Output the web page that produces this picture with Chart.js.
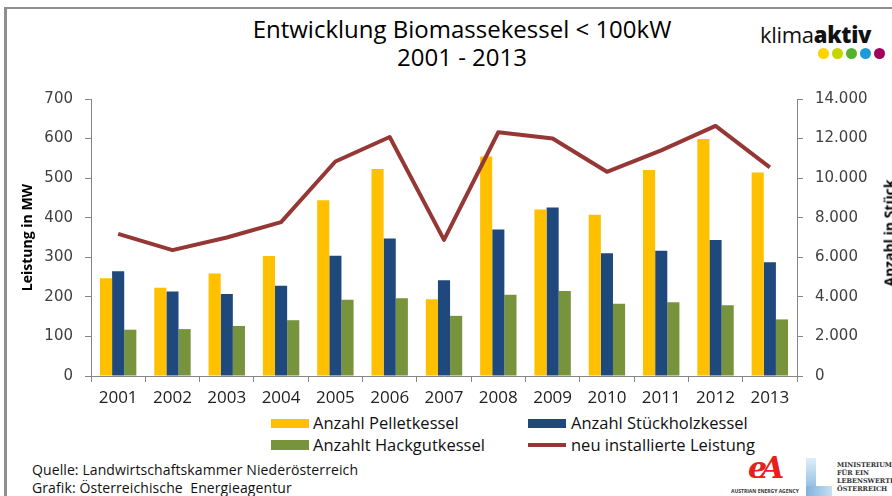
<!DOCTYPE html>
<html lang="de">
<head>
<meta charset="UTF-8">
<title>Entwicklung Biomassekessel &lt; 100kW</title>
<script src="https://cdn.jsdelivr.net/npm/chart.js"></script>
<style>
    body {
        margin: 0;
        width: 892px;
        height: 496px;
        overflow: hidden;
        background: #fff;
        font-family: 'Open Sans', sans-serif;
        position: relative;
    }
    .frame {
        position: absolute;
        left: 4px;
        top: 7px;
        width: 1000px;
        height: 600px;
        border-left: 3px solid #8f8f8f;
        border-top: 2px solid #8f8f8f;
    }
    .title {
        position: absolute;
        left: 212px;
        width: 500px;
        text-align: center;
        font-size: 24px;
        line-height: 28px;
        top: 15px;
        color: #000;
    }
    #wrap {
        position: absolute;
        left: 0;
        top: 78px;
        width: 892px;
        height: 332px;
    }
    .ytitle-r {
        position: absolute;
        left: 889px;
        top: 233px;
        transform: translate(-50%, -50%) rotate(-90deg);
        white-space: nowrap;
        font-weight: bold;
        font-size: 14px;
        color: #000;
    }
    .leg {
        position: absolute;
        font-size: 16.5px;
        color: #111;
        white-space: nowrap;
        line-height: 20px;
    }
    .sw {
        position: absolute;
        width: 38px;
    }
    .src {
        position: absolute;
        left: 32px;
        font-size: 14px;
        color: #111;
        white-space: nowrap;
        line-height: 18px;
        letter-spacing: 0.1px;
    }
    .klima {
        position: absolute;
        left: 760px;
        top: 20px;
        font-size: 22px;
        line-height: 28px;
        color: #111;
        letter-spacing: -0.3px;
    }
    .klima b { font-weight: 800; }
    .dot {
        position: absolute;
        top: 48px;
        width: 11px;
        height: 11px;
        border-radius: 50%;
    }
    .ea {
        position: absolute;
        left: 748px;
        top: 452px;
        font: italic bold 30px 'DejaVu Serif', serif;
        color: #e8201c;
        line-height: 32px;
        letter-spacing: -6px;
    }
    .ea-sub {
        position: absolute;
        left: 731px;
        top: 488px;
        font-size: 5px;
        font-weight: bold;
        color: #333;
        white-space: nowrap;
        line-height: 6px;
    }
    .lbar {
        position: absolute;
        left: 806px;
        top: 458px;
        width: 10px;
        height: 38px;
        background: linear-gradient(#dfeefa, #7fb2dd);
    }
    .lfoot {
        position: absolute;
        left: 806px;
        top: 486px;
        width: 26px;
        height: 10px;
        background: linear-gradient(90deg, #7fb2dd, #c7dff2);
    }
    .mini {
        position: absolute;
        left: 837px;
        top: 461px;
        font: bold 6.5px 'DejaVu Serif', serif;
        line-height: 8px;
        color: #333;
        white-space: nowrap;
    }
</style>
</head>
<body>
<div class="frame"></div>
<div class="title">Entwicklung Biomassekessel &lt; 100kW<br>2001 - 2013</div>

<div class="klima">klima<b>aktiv</b></div>
<div class="dot" style="left:818px;background:#ffd200"></div>
<div class="dot" style="left:832px;background:#c6d500"></div>
<div class="dot" style="left:846px;background:#55b22c"></div>
<div class="dot" style="left:860px;background:#1f9ad8"></div>
<div class="dot" style="left:874px;background:#a4005b"></div>

<div id="wrap"><canvas id="chart"></canvas></div>
<div class="ytitle-r">Anzahl in Stück</div>

<div class="sw" style="left:271px;top:419px;height:9px;background:#ffc000"></div>
<div class="leg" style="left:313px;top:413px">Anzahl Pelletkessel</div>
<div class="sw" style="left:528px;top:419px;height:9px;background:#1f497d"></div>
<div class="leg" style="left:571px;top:413px">Anzahl Stückholzkessel</div>
<div class="sw" style="left:271px;top:440px;height:10px;background:#77933c"></div>
<div class="leg" style="left:313px;top:435px">Anzahlt Hackgutkessel</div>
<div class="sw" style="left:528px;top:443px;height:4px;background:#953735"></div>
<div class="leg" style="left:571px;top:435px">neu installierte Leistung</div>

<div class="src" style="top:461px">Quelle: Landwirtschaftskammer Niederösterreich</div>
<div class="src" style="top:479px">Grafik: Österreichische&nbsp; Energieagentur</div>

<div class="ea">eA</div>
<div class="ea-sub">AUSTRIAN ENERGY AGENCY</div>
<div class="lbar"></div>
<div class="lfoot"></div>
<div class="mini">MINISTERIUM<br>FÜR EIN<br>LEBENSWERTES<br>ÖSTERREICH</div>

<script>
    const years = ['2001', '2002', '2003', '2004', '2005', '2006', '2007', '2008', '2009', '2010', '2011', '2012', '2013'];
    // Anzahl in Stück (rechte Achse)
    const pellet = [4940, 4460, 5180, 6070, 8880, 10460, 3880, 11100, 8420, 8150, 10410, 11980, 10280];
    const stueckholz = [5290, 4270, 4140, 4560, 6080, 6950, 4840, 7400, 8510, 6200, 6330, 6870, 5750];
    const hackgut = [2340, 2370, 2530, 2820, 3850, 3930, 3040, 4110, 4300, 3650, 3730, 3570, 2860];
    // Leistung in MW (linke Achse)
    const leistung = [359, 318, 350, 389, 542, 604, 344, 616, 600, 516, 570, 632, 527];

    const axisGray = '#868686';
    const tickFont = { family: "'DejaVu Sans', sans-serif", size: 15 };

    function punkt(v) {
        return String(v).replace(/\B(?=(\d{3})+(?!\d))/g, '.');
    }

    Chart.defaults.font.family = "'Open Sans', sans-serif";

    new Chart(document.getElementById('chart'), {
        type: 'bar',
        data: {
            labels: years,
            datasets: [
                {
                    type: 'line',
                    label: 'neu installierte Leistung',
                    data: leistung,
                    yAxisID: 'y',
                    borderColor: '#953735',
                    borderWidth: 4,
                    pointRadius: 0,
                    borderJoinStyle: 'round',
                    tension: 0,
                    order: 0
                },
                {
                    label: 'Anzahl Pelletkessel',
                    data: pellet,
                    yAxisID: 'y1',
                    backgroundColor: '#ffc000',
                    order: 1
                },
                {
                    label: 'Anzahl Stückholzkessel',
                    data: stueckholz,
                    yAxisID: 'y1',
                    backgroundColor: '#1f497d',
                    order: 1
                },
                {
                    label: 'Anzahlt Hackgutkessel',
                    data: hackgut,
                    yAxisID: 'y1',
                    backgroundColor: '#77933c',
                    order: 1
                }
            ]
        },
        options: {
            responsive: true,
            maintainAspectRatio: false,
            animation: false,
            layout: { padding: { top: 10, left: 0, right: 0, bottom: 0 } },
            datasets: {
                bar: { categoryPercentage: 0.67, barPercentage: 1.0 }
            },
            plugins: {
                legend: { display: false },
                tooltip: { enabled: false }
            },
            scales: {
                x: {
                    afterFit: s => { s.height = 34; },
                    grid: { drawOnChartArea: false, tickLength: 6, color: axisGray, offset: true },
                    border: { color: axisGray },
                    ticks: { color: '#222', font: { size: 17 }, padding: 6, maxRotation: 0 }
                },
                y: {
                    position: 'left',
                    min: 0,
                    max: 700,
                    afterFit: s => { s.width = 91; },
                    grid: { drawOnChartArea: false, tickLength: 6, color: axisGray },
                    border: { color: axisGray },
                    ticks: { stepSize: 100, color: '#404040', font: tickFont, padding: 12 },
                    title: {
                        display: true,
                        text: 'Leistung in MW',
                        color: '#000',
                        font: { size: 14, weight: 'bold' },
                        padding: { top: 20, bottom: 0 }
                    }
                },
                y1: {
                    position: 'right',
                    min: 0,
                    max: 14000,
                    afterFit: s => { s.width = 95; },
                    grid: { drawOnChartArea: false, tickLength: 6, color: axisGray },
                    border: { color: axisGray },
                    ticks: { stepSize: 2000, color: '#404040', font: tickFont, padding: 12, callback: v => punkt(v) }
                }
            }
        }
    });
</script>
</body>
</html>
